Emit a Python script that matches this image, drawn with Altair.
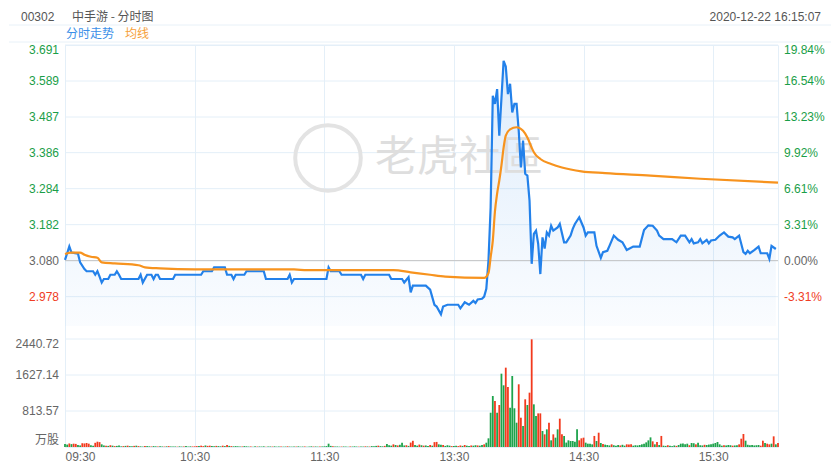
import altair as alt
import pandas as pd

# ---------------- values ----------------
PRE_CLOSE = 3.080
price_ticks = [2.978, 3.080, 3.182, 3.284, 3.386, 3.487, 3.589, 3.691]
price_tick_labels = ["2.978", "3.080", "3.182", "3.284", "3.386", "3.487", "3.589", "3.691"]
pct_labels = ["-3.31%", "0.00%", "3.31%", "6.61%", "9.92%", "13.23%", "16.54%", "19.84%"]
vol_ticks = [813.57, 1627.14, 2440.72]
vol_tick_labels = ["813.57", "1627.14", "2440.72"]
vol_unit = "万股"
time_ticks = [0, 60, 120, 180, 240, 300]
time_labels = ["09:30", "10:30", "11:30", "13:30", "14:30", "15:30"]

# minute index (trading minutes since 09:30) and last price
price_min = [0, 2, 3, 6, 7, 9, 10, 13, 14, 15, 16, 17, 18, 20, 21, 23, 24, 25, 26, 34,
             35, 36, 38, 40, 41, 42, 43, 44, 50, 51, 63, 64, 68, 69, 74, 75, 77, 78, 79, 83,
             84, 92, 93, 103, 104, 105, 106, 121, 122, 123, 127, 128, 137, 138, 139, 150, 151, 156, 157, 159,
             160, 161, 167, 169, 171, 172, 174, 175, 177, 182, 183, 185, 187, 189, 190, 191, 193, 194, 195, 196,
             197, 198, 199, 200, 201, 203, 204, 205, 206, 207, 208, 209, 210, 211, 212, 213, 214, 215, 216, 217,
             218, 219, 220, 221, 222, 223, 224, 225, 226, 228, 229, 231, 232, 234, 235, 236, 238, 240, 241, 242,
             245, 246, 248, 249, 251, 252, 254, 256, 258, 260, 263, 266, 268, 270, 272, 274, 275, 277, 281, 283,
             285, 287, 289, 290, 291, 293, 294, 295, 297, 298, 299, 301, 303, 305, 307, 309, 310, 312, 314, 315,
             316, 317, 319, 321, 322, 325, 326, 327, 329]
price_val = [3.082, 3.120, 3.103, 3.100, 3.075, 3.056, 3.050, 3.050, 3.040, 3.050, 3.035, 3.018, 3.028, 3.028, 3.040, 3.040, 3.050, 3.040, 3.028, 3.028,
             3.040, 3.018, 3.040, 3.040, 3.028, 3.040, 3.040, 3.028, 3.028, 3.040, 3.040, 3.050, 3.050, 3.061, 3.061, 3.040, 3.040, 3.028, 3.040, 3.040,
             3.050, 3.050, 3.028, 3.028, 3.040, 3.018, 3.028, 3.028, 3.061, 3.050, 3.050, 3.040, 3.040, 3.028, 3.040, 3.040, 3.028, 3.028, 3.018, 3.033,
             2.990, 3.009, 3.009, 2.998, 2.955, 2.950, 2.928, 2.950, 2.955, 2.955, 2.945, 2.962, 2.955, 2.966, 2.960, 2.970, 2.972, 2.978, 3.000, 3.080,
             3.231, 3.547, 3.524, 3.566, 3.434, 3.646, 3.630, 3.552, 3.581, 3.500, 3.524, 3.524, 3.448, 3.344, 3.420, 3.326, 3.321, 3.250, 3.071, 3.156,
             3.165, 3.128, 3.042, 3.146, 3.114, 3.160, 3.151, 3.179, 3.165, 3.174, 3.184, 3.132, 3.132, 3.151, 3.170, 3.184, 3.203, 3.174, 3.151, 3.160,
             3.160, 3.122, 3.088, 3.104, 3.108, 3.122, 3.151, 3.139, 3.132, 3.110, 3.120, 3.120, 3.167, 3.180, 3.179, 3.165, 3.151, 3.141, 3.141, 3.132,
             3.151, 3.151, 3.132, 3.141, 3.129, 3.132, 3.141, 3.129, 3.139, 3.129, 3.137, 3.139, 3.151, 3.160, 3.148, 3.146, 3.141, 3.151, 3.104, 3.099,
             3.108, 3.101, 3.110, 3.120, 3.101, 3.101, 3.085, 3.122, 3.113]

# average price line
avg_min = [0, 3, 7, 9, 12, 15, 17, 23, 34, 37, 44, 60, 106, 112, 152, 160, 169, 176, 194, 196,
           197, 198, 199, 200, 201, 202, 203, 204, 206, 209, 212, 214, 216, 217, 220, 225, 230, 239, 250, 271,
           294, 330]
avg_val = [3.099, 3.103, 3.103, 3.097, 3.091, 3.088, 3.075, 3.072, 3.067, 3.061, 3.058, 3.055, 3.055, 3.053, 3.053, 3.047, 3.040, 3.035, 3.031, 3.045,
           3.090, 3.137, 3.220, 3.270, 3.307, 3.350, 3.400, 3.434, 3.452, 3.458, 3.448, 3.429, 3.400, 3.387, 3.368, 3.354, 3.344, 3.333, 3.328, 3.321,
           3.312, 3.301]

# volume per minute (万股), minutes 0..330
volume = [70, 55, 80, 65, 75, 70, 45, 35, 85, 80,
          90, 75, 40, 30, 95, 120, 110, 60, 35, 30,
          25, 40, 30, 20, 25, 35, 15, 20, 25, 30,
          20, 15, 25, 30, 20, 15, 10, 25, 20, 15,
          12, 20, 15, 10, 18, 12, 10, 15, 20, 12,
          10, 12, 8, 15, 10, 12, 20, 10, 15, 12,
          15, 20, 25, 30, 20, 35, 25, 30, 20, 15,
          25, 20, 15, 30, 20, 45, 25, 20, 15, 20,
          15, 10, 12, 20, 15, 10, 12, 8, 15, 10,
          12, 10, 15, 8, 10, 12, 10, 15, 8, 10,
          12, 8, 10, 15, 10, 8, 12, 10, 15, 8,
          10, 12, 8, 10, 15, 10, 12, 8, 10, 12,
          15, 20, 75, 25, 15, 10, 12, 8, 10, 12,
          10, 8, 12, 10, 15, 10, 8, 12, 10, 15,
          12, 10, 20, 15, 25, 30, 20, 15, 25, 70,
          40, 30, 60, 45, 35, 50, 95, 35, 40, 25,
          100, 140, 45, 30, 55, 40, 30, 35, 25, 45,
          30, 110, 115, 60, 50, 45, 25, 40, 30, 20,
          25, 30, 20, 35, 25, 45, 30, 20, 35, 30,
          40, 35, 30, 45, 60, 97, 196, 775, 1152, 1040,
          775, 949, 1657, 1394, 1793, 1356, 889, 1605, 875, 549,
          1417, 662, 475, 1078, 949, 1228, 2434, 964, 700, 760,
          760, 362, 286, 399, 549, 151, 286, 211, 399, 640,
          286, 250, 100, 151, 136, 136, 120, 399, 151, 196,
          211, 98, 75, 75, 60, 250, 136, 323, 90, 68,
          53, 45, 35, 60, 40, 30, 45, 35, 50, 30,
          60, 55, 60, 30, 40, 35, 45, 60, 75, 105,
          150, 218, 128, 60, 113, 45, 250, 30, 25, 40,
          30, 20, 35, 25, 45, 75, 80, 60, 75, 40,
          90, 85, 60, 95, 40, 35, 50, 45, 55, 60,
          75, 90, 113, 60, 30, 40, 35, 45, 40, 30,
          35, 40, 60, 188, 294, 143, 50, 40, 45, 35,
          40, 45, 30, 143, 90, 75, 60, 75, 241, 60,
          90]
# g = up (green), r = down (red), one letter per minute
vol_dir = ("ggrgrrggrr" "rrggrrrggr" "grgrgggrgr" "ggrgrggrgg" "rggrggrgrg"
           "ggrggrgggr" "rrgrrgrrgg" "rggrgrgrgg" "ggrgggrggr" "gggrggrggg"
           "rggrgggrgg" "grgggrggrg" "ggggrgggrg" "ggrgggrggr" "grgggrggrg"
           "ggrgrgggrg" "rrggrgrggr" "grrggrgggr" "ggrrgrggrg" "grggrggggr"
           "grggrrgggg" "rrgrgrrggr" "rgrgrgrggr" "rgggggggrr" "rggggrgrgr"
           "gggrgggrgg" "rrrggggggg" "ggrgrgrggr" "gggrgggggr" "ggrgggrggg"
           "gggggrgggr" "ggrrrggggg" "ggrrgrrgrg" "r")

# ---------------- layout / style ----------------
W, H = 713, 402                     # plot area (both panels)
PX_PER_UNIT = 36 / 0.102            # price pixels per unit
P_TOP = 3.691
P_BOTTOM = P_TOP - H / PX_PER_UNIT
AREA_BASE = P_TOP - 281 / PX_PER_UNIT   # bottom of the price panel
V_TOP = 2440.72 * H / 108           # volume panel is 108px high

FONT = "Liberation Sans, Noto Sans CJK SC, sans-serif"
CJK = "Noto Sans CJK SC, Liberation Sans, sans-serif"
GRID = "#e4eff8"
GREEN, RED, GREY = "#1a9e48", "#f03c24", "#666666"
BLUE, ORANGE = "#2381ea", "#f7931e"
COLOR_OF = {"g": "#1ea34c", "r": "#f23a1e"}


def sign_color(v):
    return GREEN if v > PRE_CLOSE + 1e-9 else RED if v < PRE_CLOSE - 1e-9 else GREY


price_df = pd.DataFrame({"m": price_min, "p": price_val})
avg_df = pd.DataFrame({"m": avg_min, "a": avg_val})
vol_df = pd.DataFrame({"m": list(range(len(volume))), "v": volume,
                       "c": [COLOR_OF[d] for d in vol_dir[:len(volume)]]})
ptick_df = pd.DataFrame({"y": price_ticks, "t": price_tick_labels, "pt": pct_labels,
                         "c": [sign_color(v) for v in price_ticks],
                         "top": [v == max(price_ticks) for v in price_ticks]})
vgrid_df = pd.DataFrame({"v": vol_ticks, "t": vol_tick_labels})

xscale = alt.Scale(domain=[0, 330], nice=False, zero=False, padding=0)
label_expr = " : ".join(f"datum.value == {t} ? '{l}'" for t, l in zip(time_ticks, time_labels)) + " : ''"
xaxis = alt.Axis(values=time_ticks, labelExpr=label_expr, title=None, grid=True, gridColor=GRID,
                 ticks=False, domain=True, domainColor=GRID, labelColor=GREY, labelFontSize=12,
                 labelPadding=4, labelFlush=True, labelFont=FONT)
X = alt.X("m:Q", scale=xscale, axis=xaxis)

pscale = alt.Scale(domain=[P_BOTTOM, P_TOP], nice=False, zero=False)
PY = lambda f: alt.Y(f, type="quantitative", scale=pscale, axis=None)

pgrid = alt.Chart(ptick_df).mark_rule(color=GRID, strokeWidth=1).encode(
    x=alt.value(0), x2=alt.value(W), y=PY("y"))

area = alt.Chart(price_df).mark_area(
    interpolate="linear",
    color=alt.Gradient(gradient="linear",
                       stops=[alt.GradientStop(color="rgba(35,129,234,0.15)", offset=0),
                              alt.GradientStop(color="rgba(35,129,234,0.025)", offset=1)],
                       x1=1, x2=1, y1=0, y2=1),
).encode(x=X, y=PY("p"), y2=alt.datum(AREA_BASE))

base_rule = alt.Chart(pd.DataFrame({"y": [PRE_CLOSE]})).mark_rule(color="#c4c4c4", strokeWidth=1).encode(
    x=alt.value(0), x2=alt.value(W), y=PY("y"))

one = pd.DataFrame({"k": [0]})
logo = alt.Chart(one).mark_point(shape="circle", size=4300, filled=False, strokeWidth=4,
                                 color="#e3e3e3", opacity=1).encode(x=alt.value(263), y=alt.value(113))
wm = alt.Chart(one).mark_text(text="老虎社區", font=CJK, fontSize=42, color="#dedede",
                              align="left", baseline="middle").encode(x=alt.value(310), y=alt.value(113))

line = alt.Chart(price_df).mark_line(color=BLUE, strokeWidth=2.2, interpolate="linear").encode(
    x=X, y=PY("p"))
avg_line = alt.Chart(avg_df).mark_line(color=ORANGE, strokeWidth=2.2, interpolate="monotone").encode(
    x=X, y=PY("a"))

def tick_text(field, x, align, top):
    return alt.Chart(ptick_df).transform_filter(
        alt.datum.top if top else ~alt.datum.top
    ).mark_text(align=align, baseline="top" if top else "middle", fontSize=12, font=FONT).encode(
        x=alt.value(x), y=PY("y"), text=f"{field}:N", color=alt.Color("c:N", scale=None))

plabels = [tick_text("t", -6, "right", True), tick_text("t", -6, "right", False),
           tick_text("pt", W + 6, "left", True), tick_text("pt", W + 6, "left", False)]

# header
def htext(txt, x, y, color="#555555", align="left", font=FONT):
    return alt.Chart(one).mark_text(text=txt, font=font, fontSize=12, color=color,
                                    align=align, baseline="middle").encode(
        x=alt.value(x), y=alt.value(y))

def hline(y, color):
    return alt.Chart(one).mark_rule(color=color, strokeWidth=1).encode(
        x=alt.value(-56), x2=alt.value(W + 53), y=alt.value(y))

header = [
    hline(-36, "#ffffff"),
    htext("00302", -44, -28),
    htext("中手游 - 分时图", 7, -28, font=CJK),
    htext("2020-12-22 16:15:07", W + 43, -28, align="right"),
    htext("分时走势", 1, -11, color="#3b8fe8", font=CJK),
    htext("均线", 60, -11, color="#f6a03a", font=CJK),
    hline(-20, "#e8f1f8"), hline(-3, "#e8f1f8"),
]

price_group = alt.layer(pgrid, area, base_rule, logo, wm, line, avg_line, *plabels, *header)

# volume panel
vscale = alt.Scale(domain=[0, V_TOP], nice=False, zero=True)
VY = lambda f: alt.Y(f, type="quantitative", scale=vscale, axis=None)
bars = alt.Chart(vol_df).mark_bar(size=1.8).encode(
    x=X, y=VY("v"), color=alt.Color("c:N", scale=None))
vgrid = alt.Chart(vgrid_df).mark_rule(color=GRID, strokeWidth=1).encode(
    x=alt.value(0), x2=alt.value(W), y=VY("v"))
vlab_top = alt.Chart(vgrid_df).transform_filter(alt.datum.v > 2000).mark_text(
    align="right", baseline="top", fontSize=12, font=FONT, color=GREY).encode(
    x=alt.value(-6), y=VY("v"), text="t:N")
vlab_mid = alt.Chart(vgrid_df).transform_filter(alt.datum.v < 2000).mark_text(
    align="right", baseline="middle", fontSize=12, font=FONT, color=GREY).encode(
    x=alt.value(-6), y=VY("v"), text="t:N")
vunit = alt.Chart(pd.DataFrame({"v": [0], "t": [vol_unit]})).mark_text(
    align="right", baseline="bottom", fontSize=12, font=CJK, color=GREY).encode(
    x=alt.value(-6), y=VY("v"), text="t:N")

vol_group = alt.layer(vgrid, bars, vlab_top, vlab_mid, vunit)

chart = alt.layer(price_group, vol_group).resolve_scale(y="independent").properties(
    width=W, height=H, padding=0, background="white"
).configure_view(stroke=GRID, strokeWidth=1)

chart.save("out.html", embed_options={"renderer": "svg", "actions": False})
